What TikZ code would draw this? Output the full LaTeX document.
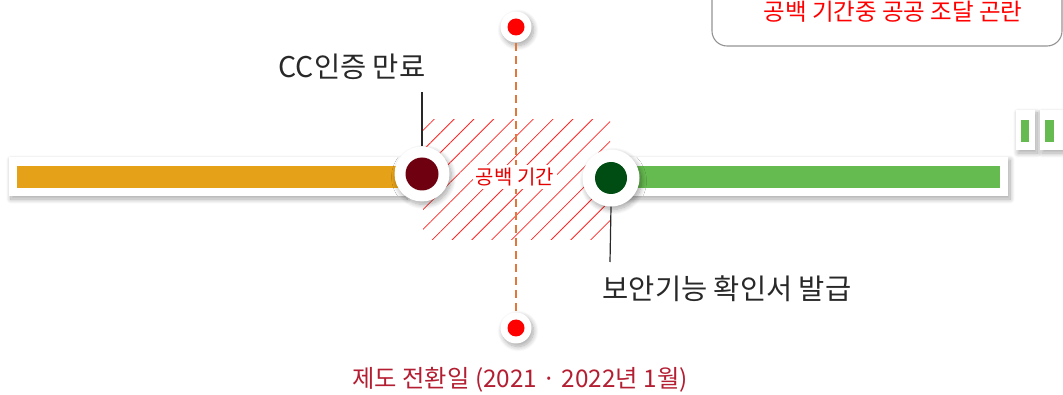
\documentclass[tikz,border=0pt]{standalone}
\usepackage{fontspec}
\setmainfont{Noto Sans CJK KR}
\usetikzlibrary{shadows.blur, patterns.meta}

\definecolor{barorange}{RGB}{229,161,24}
\definecolor{bargreen}{RGB}{102,187,80}
\definecolor{ccred}{RGB}{110,0,16}
\definecolor{secgreen}{RGB}{0,77,20}
\definecolor{dashorange}{RGB}{224,120,60}
\definecolor{datered}{RGB}{180,30,50}
\definecolor{labelgray}{RGB}{40,40,40}

\tikzset{
  softshadow/.style={blur shadow={shadow xshift=2pt, shadow yshift=-3pt, shadow blur radius=5pt, shadow blur steps=10, shadow opacity=35}},
  ring/.style={circle, fill=white, inner sep=0pt, minimum size=#1, softshadow},
  barbox/.style={fill=white, softshadow},
  tag/.style={font=\fontsize{28.5}{32}\selectfont, text=labelgray, inner sep=1pt},
}

\begin{document}
\begin{tikzpicture}[x=1pt, y=-1pt]
  \useasboundingbox (0,0) rectangle (1063,395);
  \clip (0,0) rectangle (1063,395);

  % Define points
  \coordinate (ccend) at (422,92);
  \coordinate (secend) at (610,262);

  % Box at top right
  \draw[gray!85, line width=1.1pt, rounded corners=15pt] (712,-30) rectangle (1062,46);
  \node[text=red, font=\fontsize{23.5}{26}\selectfont] (problem) at (893,12) {공백 기간중 공공 조달 곤란};

  % Bars
  \fill[barbox] (9,157) rectangle (405,196);
  \fill[barorange] (17,166) rectangle (405,188);
  \fill[barbox] (600,157) rectangle (1008,196);
  \fill[bargreen] (600,166) rectangle (1000,188);
  \fill[barbox] (1016,110) rectangle (1035,150);
  \fill[bargreen] (1021,120) rectangle (1029,142);
  \fill[barbox] (1040,110) rectangle (1064,150);
  \fill[bargreen] (1045,120) rectangle (1054,142);

  % Hatched gap
  \fill[pattern={Lines[angle=45, distance=14pt, line width=0.8pt]}, pattern color=red!85!white]
    (423,120) rectangle (610,240);

  % Dashed line between the two dates
  \node[ring=31pt] (top) at (516,27) {};
  \node[ring=31pt] (bot) at (516,328) {};
  \draw[dashorange, line width=2pt, dash pattern=on 8pt off 5pt] (top) -- (bot);
  \fill[red] (top) circle (8.5pt);
  \fill[red] (bot) circle (8.5pt);

  % Rings on the bar
  \node[ring=55pt] (cc) at (422,174) {};
  \fill[ccred] (cc) circle (16.5pt);
  \node[ring=57pt] (sec) at (611,178) {};
  \fill[secgreen] (sec) circle (16pt);

  % Label lines
  \draw[labelgray, line width=1.2pt] (cc.north) -- (ccend);
  \draw[labelgray, line width=1.2pt] (sec.south) -- (secend);

  % Label points
  \node[fill=white, text=red!90!black, font=\fontsize{20}{22}\selectfont, inner sep=3pt] (gap) at (515,177) {공백 기간};
  \node[tag] (cclabel) at (352,67) {CC인증 만료};
  \node[tag] (seclabel) at (727,289) {보안기능 확인서 발급};
  \node[text=datered, font=\fontsize{24.3}{28}\selectfont] (date) at (520,380) {제도 전환일 (2021 · 2022년 1월)};

\end{tikzpicture}
\end{document}
